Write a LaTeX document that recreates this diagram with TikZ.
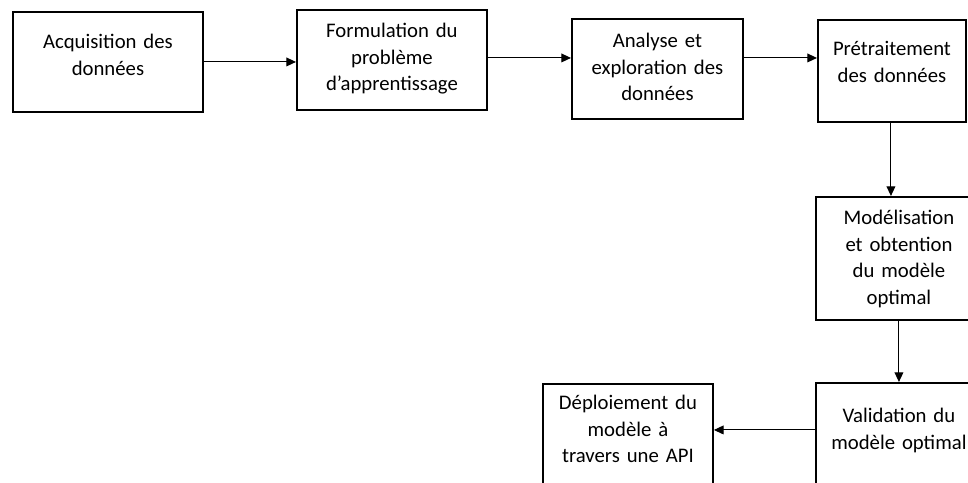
\documentclass[tikz,border=0pt]{standalone}
\usepackage{fontspec}
\setmainfont{Carlito}
\usetikzlibrary{arrows.meta}
\tikzstyle{etape} = [rectangle, draw=black, line width=1.1pt, inner sep=0pt,
  anchor=north west, align=center, font=\fontsize{11.8}{15}\selectfont]
\tikzstyle{line} = [draw, line width=0.6pt, -{Triangle[length=5.5pt, width=5pt]}]

\begin{document}
\begin{tikzpicture}[x=0.02cm, y=-0.02cm]
                    \clip (0,0) rectangle (968,483);
                    \fill[white] (0,0) rectangle (968,483);

                    % Place nodes
                    \node [etape, text width=3.8cm, text height=0.74cm, text depth=1.26cm] (acquisition) at (12,11) {Acquisition des\\données};
                    \node [etape, text width=3.8cm, text height=0.56cm, text depth=1.44cm] (formulation) at (296,9) {Formulation du\\problème\\d’apprentissage};
                    \node [etape, text width=3.42cm, text height=0.58cm, text depth=1.42cm] (analyse) at (571,18) {Analyse et\\exploration des\\données};
                    \node [etape, text width=2.96cm, text height=0.72cm, text depth=1.32cm] (pretraitement) at (817,19) {Prétraitement\\des données};
                    \node [etape, text width=3.32cm, text height=0.56cm, text depth=1.9cm] (modelisation) at (815,196) {Modélisation\\et obtention\\du modèle\\optimal};
                    \node [etape, text width=3.32cm, text height=0.8cm, text depth=1.4cm] (validation) at (815,382) {Validation du\\modèle optimal};
                    \node [etape, text width=3.4cm, text height=0.52cm, text depth=1.68cm] (deploiement) at (542,383) {Déploiement du\\modèle à\\travers une API};

                    % Draw edges
                    \path [line] (acquisition) -- (acquisition -| formulation.west);
                    \path [line] ([yshift=0.04cm]formulation.east) -- ([yshift=0.04cm]formulation.east -| analyse.west);
                    \path [line] ([yshift=0.22cm]analyse.east) -- ([yshift=0.22cm]analyse.east -| pretraitement.west);
                    \path [line] ([xshift=-0.02cm]pretraitement.south) -- ([xshift=-0.02cm]pretraitement.south |- modelisation.north);
                    \path [line] (modelisation.south) -- (validation.north);
                    \path [line] ([yshift=0.16cm]validation.west) -- ([yshift=0.16cm]validation.west -| deploiement.east);
                \end{tikzpicture}
\end{document}
